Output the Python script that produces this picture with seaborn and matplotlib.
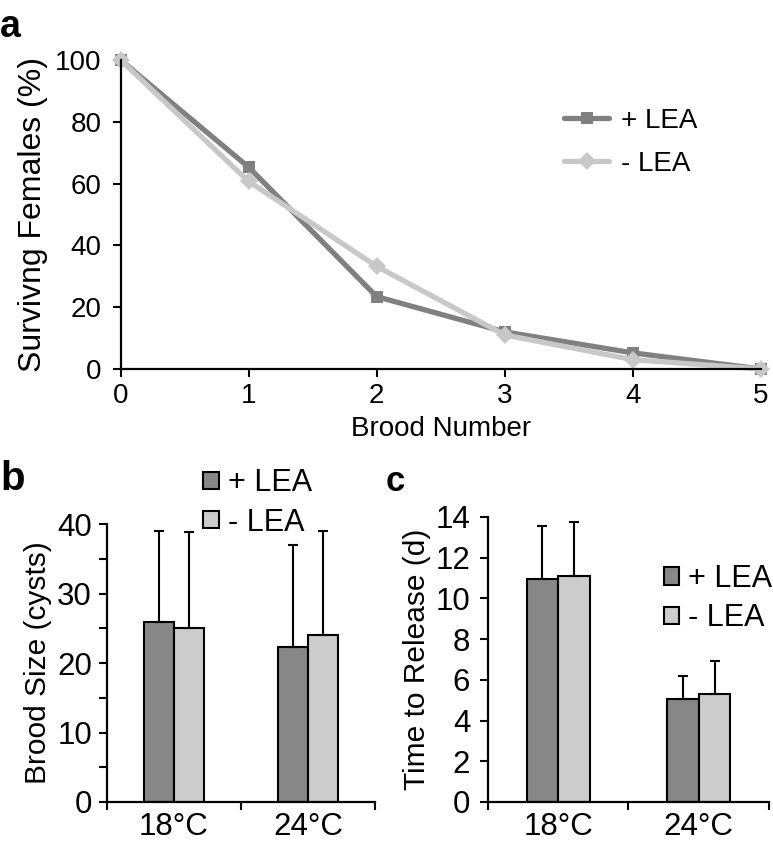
import numpy as np
import pandas as pd
import seaborn as sns
import matplotlib.pyplot as plt

sns.set_style("ticks")
plt.rcParams['font.family'] = ['Liberation Sans', 'DejaVu Sans']
plt.rcParams['text.color'] = 'black'
plt.rcParams['axes.labelcolor'] = 'black'
plt.rcParams['xtick.color'] = 'black'
plt.rcParams['ytick.color'] = 'black'

# panel a: survival per brood
brood = [0, 1, 2, 3, 4, 5]
surv_plus = [100, 65.3, 23.4, 12.0, 5.2, 0]
surv_minus = [100, 60.7, 33.2, 11.0, 3.0, 0]

# panels b and c
temps = ['18°C', '24°C']
groups = ['+ LEA', '- LEA']
size_plus = [25.9, 22.3]
size_minus = [25.0, 24.0]
size_err_plus = [13.1, 14.7]
size_err_minus = [13.9, 15.0]
time_plus = [10.95, 5.05]
time_minus = [11.1, 5.3]
time_err_plus = [2.6, 1.13]
time_err_minus = [2.67, 1.64]

line_cols = {'+ LEA': '#808080', '- LEA': '#c8c8c8'}
bar_cols = {'+ LEA': '#878787', '- LEA': '#cccccc'}

fig = plt.figure(figsize=(7.73, 8.48), dpi=100)
ax_a = fig.add_axes([0.1559, 0.5649, 0.8286, 0.3644])
ax_b = fig.add_axes([0.1384, 0.05425, 0.3467, 0.3278])
ax_c = fig.add_axes([0.6313, 0.05425, 0.3635, 0.3361])


def style_axis(ax, size, ypad):
    sns.despine(ax=ax)
    for s in ['left', 'bottom']:
        ax.spines[s].set_linewidth(1.6)
        ax.spines[s].set_color('black')
    ax.tick_params(which='both', direction='out', length=5.8, width=1.5,
                   labelsize=size)
    ax.tick_params(axis='y', which='both', pad=ypad)


# ---- a ----
df_a = pd.DataFrame({
    'brood': brood * 2,
    'surv': surv_plus + surv_minus,
    'group': ['+ LEA'] * len(brood) + ['- LEA'] * len(brood),
})
sns.lineplot(data=df_a, x='brood', y='surv', hue='group', style='group',
             hue_order=groups, style_order=groups, palette=line_cols,
             markers=['s', 'D'], dashes=False, linewidth=3.8,
             markersize=9, markeredgewidth=0, clip_on=False, ax=ax_a)
ax_a.set_xlim(0, 5)
ax_a.set_ylim(0, 100)
ax_a.set_xticks(brood)
ax_a.set_yticks([0, 20, 40, 60, 80, 100])
style_axis(ax_a, 20, 8)
ax_a.tick_params(axis='x', pad=4)
ax_a.set_xlabel('Brood Number', fontsize=20, labelpad=5)
ax_a.set_ylabel('Survivng Females (%)', fontsize=23, labelpad=5)
h, l = ax_a.get_legend_handles_labels()
ax_a.legend(h, l, frameon=False, fontsize=20, loc='upper left',
            bbox_to_anchor=(0.693, 0.845), borderpad=0, borderaxespad=0,
            handlelength=1.6, handletextpad=0.45, labelspacing=0.6)

# ---- b and c ----
def bar_panel(ax, plus, minus, err_plus, err_minus, ypad):
    df = pd.DataFrame({
        'temp': temps * 2,
        'val': plus + minus,
        'group': ['+ LEA'] * 2 + ['- LEA'] * 2,
    })
    sns.barplot(data=df, x='temp', y='val', hue='group', hue_order=groups,
                palette=bar_cols, width=0.45, edgecolor='black',
                linewidth=1.5, errorbar=None, ax=ax)
    for cont, err in zip(ax.containers, [err_plus, err_minus]):
        xs = [p.get_x() + p.get_width() / 2 for p in cont.patches]
        ys = [p.get_height() for p in cont.patches]
        ax.errorbar(xs, ys, yerr=[[0] * len(err), err], fmt='none',
                    ecolor='black', elinewidth=1.5, capsize=3.6,
                    capthick=1.5, zorder=1)
    ax.set_xlim(-0.5, 1.5)
    ax.set_xticks([-0.5, 0.5, 1.5], labels=['', '', ''])
    ax.set_xticks([0, 1], labels=temps, minor=True)
    style_axis(ax, 22.5, ypad)
    ax.tick_params(axis='x', which='minor', length=0, pad=7)
    ax.set_xlabel('')


bar_panel(ax_b, size_plus, size_minus, size_err_plus, size_err_minus, 5)
ax_b.set_ylim(0, 40)
ax_b.set_yticks([0, 10, 20, 30, 40])
ax_b.set_yticks([5, 15, 25, 35], minor=True)
ax_b.set_ylabel('Brood Size (cysts)', fontsize=21.5, labelpad=4)
h, l = ax_b.get_legend_handles_labels()
ax_b.legend(h, l, frameon=False, fontsize=22, loc='upper left',
            bbox_to_anchor=(0.36, 1.2), borderpad=0, borderaxespad=0,
            handlelength=0.5, handleheight=0.5, handletextpad=0.3,
            labelspacing=0.3)

bar_panel(ax_c, time_plus, time_minus, time_err_plus, time_err_minus, 7)
ax_c.set_ylim(0, 14)
ax_c.set_yticks([0, 2, 4, 6, 8, 10, 12, 14])
ax_c.set_ylabel('Time to Release (d)', fontsize=21.5, labelpad=3)
h, l = ax_c.get_legend_handles_labels()
ax_c.legend(h, l, frameon=False, fontsize=22, loc='upper left',
            bbox_to_anchor=(0.625, 0.835), borderpad=0, borderaxespad=0,
            handlelength=0.5, handleheight=0.5, handletextpad=0.3,
            labelspacing=0.3)

fig.text(0.0, 1 - 37 / 848, 'a', fontsize=27, fontweight='bold',
         va='baseline')
fig.text(0.0, 1 - 490 / 848, 'b', fontsize=29, fontweight='bold',
         va='baseline')
fig.text(0.499, 1 - 491 / 848, 'c', fontsize=25, fontweight='bold',
         va='baseline')

fig.savefig('out.png', dpi=100)
